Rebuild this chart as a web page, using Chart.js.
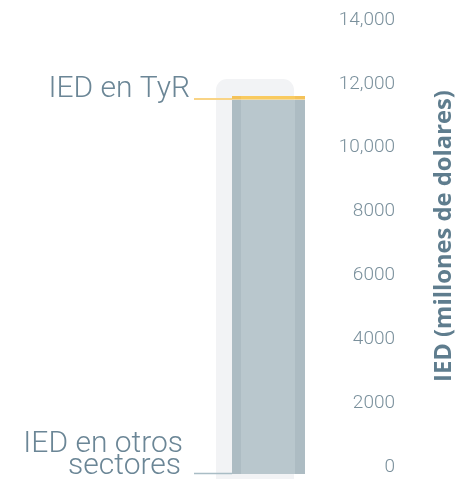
<!DOCTYPE html>
<html><head><meta charset="utf-8">
<script src="https://cdn.jsdelivr.net/npm/chart.js@4.4.1/dist/chart.umd.min.js"></script>
<style>html,body{margin:0;padding:0;background:#fff;overflow:hidden}#wrap{width:460px;height:479px;position:relative}</style>
</head><body><div id="wrap"><canvas id="c" width="460" height="479"></canvas></div>
<script>
const CATEGORIES = ['IED'];
const IED_OTROS = [11720];
const IED_TYR = [120];
const TRACK = [12370];
const TICK_VALUES = [0, 2000, 4000, 6000, 8000, 10000, 12000, 14000];
const TICK_LABELS = ['0', '2000', '4000', '6000', '8000', '10,000', '12,000', '14,000'];
const LABEL_TYR = ['IED en TyR'];
const LABEL_OTROS = ['IED en otros', 'sectores'];
const AXIS_TITLE = 'IED (millones de dolares)';
const Y_MIN = -157, Y_MAX = 14000;

const FONT = 'Roboto, "Open Sans", "DejaVu Sans", sans-serif';
const TITLE_FONT = '"Open Sans", Roboto, "DejaVu Sans", sans-serif';
const CP = 0.23176;

const orderPlugin = {
  id: 'order',
  beforeDatasetsDraw(chart) {
    const meta = chart.getDatasetMeta(0);
    if (meta && meta.controller) meta.controller.draw();
  },
  beforeDatasetDraw(chart, args) {
    if (args.index === 0) return false;
  }
};

const annotPlugin = {
  id: 'annot',
  afterDraw(chart) {
    const ctx = chart.ctx;
    const ys = chart.scales.y;
    const bar = chart.getDatasetMeta(1).data[0];
    const left = bar.x - bar.width / 2;
    ctx.save();
    // TyR
    const yT = ys.getPixelForValue(IED_OTROS[0] + IED_TYR[0] / 2) + 1;
    ctx.strokeStyle = '#f9d486';
    ctx.lineWidth = 2;
    ctx.beginPath(); ctx.moveTo(left - 38, yT); ctx.lineTo(left, yT); ctx.stroke();
    ctx.fillStyle = '#6b8696';
    ctx.font = '300 30px ' + FONT;
    ctx.textAlign = 'right';
    ctx.textBaseline = 'alphabetic';
    ctx.fillText(LABEL_TYR[0], left - 42, yT - 1.5);
    // otros
    const y0 = ys.getPixelForValue(0);
    ctx.strokeStyle = '#a9bdc5';
    ctx.lineWidth = 1.5;
    ctx.beginPath(); ctx.moveTo(left - 38, y0 - 0.5); ctx.lineTo(left, y0 - 0.5); ctx.stroke();
    ctx.fillText(LABEL_OTROS[0], left - 49, y0 - 21.5);
    ctx.fillText(LABEL_OTROS[1], left - 51, y0 + 0.5);
    // axis title
    ctx.font = 'bold 20px ' + TITLE_FONT;
    const w = ctx.measureText(AXIS_TITLE).width;
    const size = Math.min(24, 20 * 292 / w);
    ctx.font = 'bold ' + size.toFixed(2) + 'px ' + TITLE_FONT;
    ctx.translate(444, 236);
    ctx.rotate(-Math.PI / 2);
    ctx.fillStyle = '#5f7d8e';
    ctx.textAlign = 'center';
    ctx.textBaseline = 'middle';
    ctx.fillText(AXIS_TITLE, 0, 0);
    ctx.restore();
  }
};

new Chart(document.getElementById('c'), {
  type: 'bar',
  data: {
    labels: CATEGORIES,
    datasets: [
      {
        label: 'fondo',
        data: TRACK,
        stack: 'fondo',
        base: Y_MIN,
        backgroundColor: '#f2f3f5',
        borderWidth: 0,
        borderRadius: { topLeft: 11, topRight: 11, bottomLeft: 0, bottomRight: 0 },
        borderSkipped: false,
        categoryPercentage: CP,
        barPercentage: 5.7778
      },
      {
        label: LABEL_OTROS.join(' '),
        data: IED_OTROS,
        stack: 'ied',
        backgroundColor: '#b9c7cd',
        borderColor: '#adbcc3',
        borderWidth: { left: 9, right: 10, top: 0, bottom: 0 },
        categoryPercentage: CP,
        barPercentage: 5.4074
      },
      {
        label: LABEL_TYR[0],
        data: IED_TYR,
        stack: 'ied',
        backgroundColor: '#f9ca5f',
        borderColor: '#f4c259',
        borderWidth: { left: 9, right: 10, top: 0, bottom: 0 },
        categoryPercentage: CP,
        barPercentage: 5.4074
      }
    ]
  },
  options: {
    responsive: false,
    animation: false,
    devicePixelRatio: 1,
    layout: { padding: { left: 203.5, top: 27, right: 65, bottom: 0 } },
    plugins: { legend: { display: false }, tooltip: { enabled: false } },
    scales: {
      x: { display: false },
      y: {
        position: 'right',
        stacked: true,
        min: Y_MIN,
        max: Y_MAX,
        grid: { display: false, drawTicks: false, tickLength: 0 },
        border: { display: false },
        afterBuildTicks: s => { s.ticks = TICK_VALUES.map(v => ({ value: v })); },
        afterFit: s => { s.width = 75; s.paddingTop = 0; s.paddingBottom = 0; },
        ticks: {
          autoSkip: false,
          crossAlign: 'far',
          padding: 0,
          labelOffset: -7,
          color: '#7a909c',
          font: { family: FONT, size: 19, weight: '300' },
          callback: v => { const i = TICK_VALUES.indexOf(v); return i >= 0 ? TICK_LABELS[i] : ''; }
        }
      }
    }
  },
  plugins: [orderPlugin, annotPlugin]
});
</script></body></html>
